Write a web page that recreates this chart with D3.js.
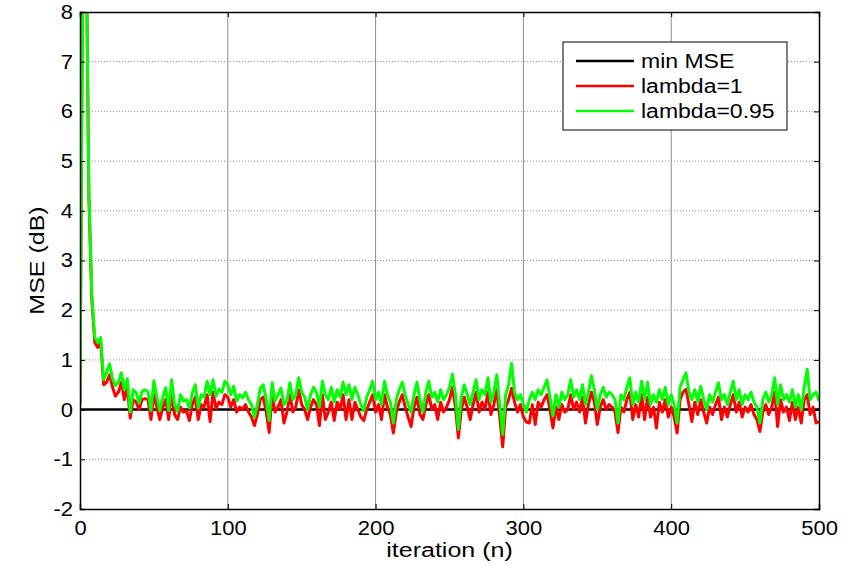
<!DOCTYPE html>
<html>
<head>
<meta charset="utf-8">
<script src="https://cdn.jsdelivr.net/npm/d3@7"></script>
<style>
  body { margin: 0; background: #fff; }
  text { font-family: "Liberation Sans", Arial, sans-serif; fill: #000; }
</style>
</head>
<body>
<div id="chart"></div>
<script>
// iteration axis, every 2nd sample
var iterations = d3.range(0, 501, 2);

var minMSE = [0, 0];
var minIters = [0, 500];

// lambda = 1 (red)
var lambda1 = [
  0.1, 10, 10, 4.3, 2.2, 1.35, 1.25, 1.35, 0.5, 0.55,
  0.7, 0.45, 0.27, 0.35, 0.55, 0.2, 0.45, -0.17, 0.2, 0.15,
  0.0, 0.2, 0.22, 0.2, -0.2, 0.3, 0.05, -0.2, 0.05, 0.2,
  -0.2, 0.35, -0.1, -0.2, 0.05, -0.05, -0.02, -0.22, 0.1, 0.25,
  -0.2, 0.1, 0.05, 0.3, -0.24, 0.35, 0.02, 0.15, 0.1, 0.3,
  0.25, 0.05, 0.2, -0.05, 0.05, 0.0, 0.1, -0.05, -0.15, -0.32,
  -0.1, 0.2, 0.25, -0.05, -0.46, 0.3, -0.05, 0.05, 0.2, -0.27,
  -0.05, 0.3, -0.05, 0.05, 0.4, 0.1, 0.0, -0.2, 0.05, 0.2,
  0.1, -0.32, 0.3, -0.2, -0.05, 0.15, -0.22, 0.15, 0.0, 0.3,
  -0.2, 0.2, -0.2, 0.15, 0.0, -0.15, -0.22, 0.0, 0.15, 0.3,
  -0.05, 0.1, -0.2, 0.3, 0.05, -0.1, -0.47, -0.05, 0.15, 0.3,
  0.05, -0.15, -0.34, 0.05, 0.25, -0.1, -0.2, 0.1, 0.3, 0.0,
  0.1, -0.2, 0.15, -0.05, 0.05, 0.2, 0.45, 0.05, -0.57, 0.0,
  0.25, 0.05, -0.2, 0.1, 0.35, -0.05, 0.15, 0.0, 0.35, -0.1,
  0.1, 0.4, -0.15, -0.75, 0.05, 0.2, 0.43, 0.15, -0.05, 0.1,
  -0.15, -0.25, -0.27, 0.1, -0.3, 0.15, 0.05, 0.2, 0.3, 0.0,
  -0.37, 0.05, -0.2, 0.1, -0.05, 0.0, 0.3, 0.0, 0.15, -0.05,
  0.25, -0.27, 0.1, 0.35, 0.15, -0.3, 0.05, 0.2, 0.0, 0.1,
  0.05, -0.05, -0.46, 0.05, -0.05, 0.2, 0.35, -0.2, 0.1, -0.15,
  0.3, -0.2, 0.25, -0.15, 0.05, -0.37, 0.15, -0.05, 0.2, -0.15,
  0.05, -0.15, -0.47, 0.2, 0.35, 0.41, 0.1, -0.24, 0.15, -0.1,
  0.2, -0.05, -0.27, 0.05, -0.1, 0.1, 0.25, -0.2, 0.05, -0.15,
  0.1, 0.3, -0.05, 0.15, -0.15, 0.05, -0.05, 0.1, -0.1, -0.2,
  -0.44, -0.05, 0.1, -0.1, 0.05, 0.35, -0.34, 0.2, -0.05, 0.05,
  -0.22, 0.15, -0.2, 0.05, -0.27, 0.2, 0.3, -0.1, 0.05, -0.27,
  -0.24
];

// lambda = 0.95 (green)
var lambda095 = [
  0.15, 10, 10, 4.4, 2.3, 1.45, 1.35, 1.45, 0.6, 0.75,
  0.92, 0.62, 0.48, 0.55, 0.74, 0.4, 0.62, -0.05, 0.4, 0.34,
  0.13, 0.37, 0.4, 0.36, -0.02, 0.58, 0.25, -0.02, 0.24, 0.44,
  -0.02, 0.6, 0.1, -0.03, 0.3, 0.17, 0.2, 0.03, 0.34, 0.5,
  0.03, 0.3, 0.25, 0.57, 0.3, 0.6, 0.27, 0.41, 0.35, 0.57,
  0.5, 0.3, 0.47, 0.17, 0.3, 0.24, 0.35, 0.2, 0.1, -0.15,
  0.1, 0.43, 0.5, 0.2, -0.22, 0.54, 0.17, 0.3, 0.43, 0.1,
  0.17, 0.54, 0.2, 0.3, 0.64, 0.35, 0.25, 0.0, 0.3, 0.45,
  0.35, 0.05, 0.57, 0.3, 0.2, 0.45, 0.15, 0.4, 0.25, 0.55,
  0.3, 0.5, 0.2, 0.45, 0.3, 0.1, -0.03, 0.25, 0.4, 0.57,
  0.2, 0.35, 0.1, 0.57, 0.3, 0.15, -0.27, 0.2, 0.4, 0.55,
  0.3, 0.1, -0.05, 0.3, 0.55, 0.2, -0.05, 0.35, 0.57, 0.25,
  0.35, 0.15, 0.4, 0.2, 0.3, 0.45, 0.71, 0.3, -0.4, 0.25,
  0.5, 0.3, 0.1, 0.35, 0.6, 0.2, 0.4, 0.3, 0.64, 0.15,
  0.35, 0.7, 0.1, -0.5, 0.3, 0.5, 0.93, 0.35, 0.2, 0.3,
  0.1, -0.05, 0.2, 0.35, 0.2, 0.4, 0.3, 0.45, 0.6, 0.25,
  -0.13, 0.3, 0.05, 0.35, 0.2, 0.3, 0.6, 0.25, 0.4, 0.2,
  0.5, 0.1, 0.35, 0.68, 0.4, 0.0, 0.3, 0.45, 0.25, 0.35,
  0.3, 0.2, -0.27, 0.3, 0.2, 0.45, 0.64, 0.1, 0.35, 0.15,
  0.57, 0.2, 0.55, 0.1, 0.3, 0.15, 0.4, 0.2, 0.45, 0.1,
  0.3, 0.1, -0.27, 0.45, 0.6, 0.74, 0.35, 0.2, 0.4, 0.15,
  0.47, 0.2, 0.0, 0.3, 0.15, 0.35, 0.54, 0.2, 0.3, 0.1,
  0.35, 0.57, 0.2, 0.4, 0.1, 0.3, 0.2, 0.35, 0.15, 0.05,
  -0.27, 0.2, 0.35, 0.15, 0.3, 0.64, 0.1, 0.5, 0.2, 0.3,
  0.15, 0.4, 0.05, 0.3, 0.0, 0.45, 0.81, 0.2, 0.3, 0.35,
  0.17
];

var xTicks = [0, 100, 200, 300, 400, 500];
var yTicks = [-2, -1, 0, 1, 2, 3, 4, 5, 6, 7, 8];

var legendLabels = ["min MSE", "lambda=1", "lambda=0.95"];
var legendColors = ["#000000", "#ff0000", "#00ff00"];

var width = 856, height = 566;
var margin = { top: 12, right: 37, bottom: 57, left: 80 };
var plotW = width - margin.left - margin.right;
var plotH = height - margin.top - margin.bottom;

var svg = d3.select("#chart").append("svg")
    .attr("width", width)
    .attr("height", height);

var g = svg.append("g")
    .attr("transform", "translate(" + margin.left + "," + margin.top + ")");

var x = d3.scaleLinear().domain([0, 500]).range([0, plotW]);
var y = d3.scaleLinear().domain([-2, 8]).range([plotH, 0]);

// grid
g.append("g").selectAll("line")
    .data(yTicks.slice(1, -1))
  .enter().append("line")
    .attr("x1", 0).attr("x2", plotW)
    .attr("y1", d => y(d)).attr("y2", d => y(d))
    .attr("stroke", "#8c8c8c")
    .attr("stroke-width", 1)
    .attr("stroke-dasharray", "1,2");

g.append("g").selectAll("line")
    .data(xTicks.slice(1, -1))
  .enter().append("line")
    .attr("x1", d => x(d)).attr("x2", d => x(d))
    .attr("y1", 0).attr("y2", plotH)
    .attr("stroke", "#8c8c8c")
    .attr("stroke-width", 1);

g.append("clipPath").attr("id", "clip")
  .append("rect").attr("width", plotW).attr("height", plotH);

var lines = g.append("g").attr("clip-path", "url(#clip)");

var line = d3.line()
    .x(d => x(d[0]))
    .y(d => y(d[1]));

lines.append("path")
    .datum(d3.zip(minIters, minMSE))
    .attr("d", line)
    .attr("fill", "none")
    .attr("stroke", legendColors[0])
    .attr("stroke-width", 2.5);

lines.append("path")
    .datum(d3.zip(iterations, lambda1))
    .attr("d", line)
    .attr("fill", "none")
    .attr("stroke", legendColors[1])
    .attr("stroke-width", 3)
    .attr("stroke-linejoin", "round");

lines.append("path")
    .datum(d3.zip(iterations, lambda095))
    .attr("d", line)
    .attr("fill", "none")
    .attr("stroke", legendColors[2])
    .attr("stroke-width", 3)
    .attr("stroke-linejoin", "round");

// axes, ticks point inward like matlab
var fontSize = "20px";
var fmt = d => String(d);   // plain hyphen for negatives

g.append("g")
    .attr("transform", "translate(0," + plotH + ")")
    .call(d3.axisBottom(x).tickValues(xTicks).tickFormat(fmt).tickSize(-5).tickPadding(12));
g.append("g")
    .call(d3.axisLeft(y).tickValues(yTicks).tickFormat(fmt).tickSize(-5).tickPadding(7));
g.append("g")
    .call(d3.axisTop(x).tickValues(xTicks).tickSize(-5).tickFormat(""));
g.append("g")
    .attr("transform", "translate(" + plotW + ",0)")
    .call(d3.axisRight(y).tickValues(yTicks).tickSize(-5).tickFormat(""));

g.selectAll(".domain").attr("stroke", "#000").attr("stroke-width", 1.5);
g.selectAll(".tick line").attr("stroke", "#000");
g.selectAll(".tick text")
    .style("font-size", fontSize)
    .style("font-family", "'Liberation Sans', Arial, sans-serif");

// axis labels
g.append("text")
    .attr("class", "wide")
    .attr("x", plotW / 2)
    .attr("y", plotH + 48)
    .attr("text-anchor", "middle")
    .style("font-size", fontSize)
    .text("iteration (n)");

g.append("text")
    .attr("class", "wide")
    .attr("transform", "translate(" + (-36) + "," + (plotH / 2) + ") rotate(-90)")
    .attr("text-anchor", "middle")
    .style("font-size", fontSize)
    .text("MSE (dB)");

// legend
var legend = svg.append("g").attr("transform", "translate(563,42)");
legend.append("rect")
    .attr("width", 224).attr("height", 88)
    .attr("fill", "#fff")
    .attr("stroke", "#000")
    .attr("stroke-width", 1);

var item = legend.selectAll(".item")
    .data(legendLabels)
  .enter().append("g")
    .attr("transform", (d, i) => "translate(0," + (19 + i * 25) + ")");

item.append("line")
    .attr("x1", 13).attr("x2", 71)
    .attr("stroke", (d, i) => legendColors[i])
    .attr("stroke-width", 2.5);

item.append("text")
    .attr("x", 78)
    .attr("dy", "0.35em")
    .style("font-size", fontSize)
    .text(d => d);

// the source text is drawn a bit wider than Arial, stretch it
function stretch(sel, k) {
  sel.each(function() {
    var len = this.getComputedTextLength();
    d3.select(this)
      .attr("textLength", len * k)
      .attr("lengthAdjust", "spacingAndGlyphs");
  });
}
stretch(g.selectAll(".tick text"), 1.1);
stretch(item.selectAll("text"), 1.15);
stretch(g.selectAll("text.wide"), 1.25);
</script>
</body>
</html>
